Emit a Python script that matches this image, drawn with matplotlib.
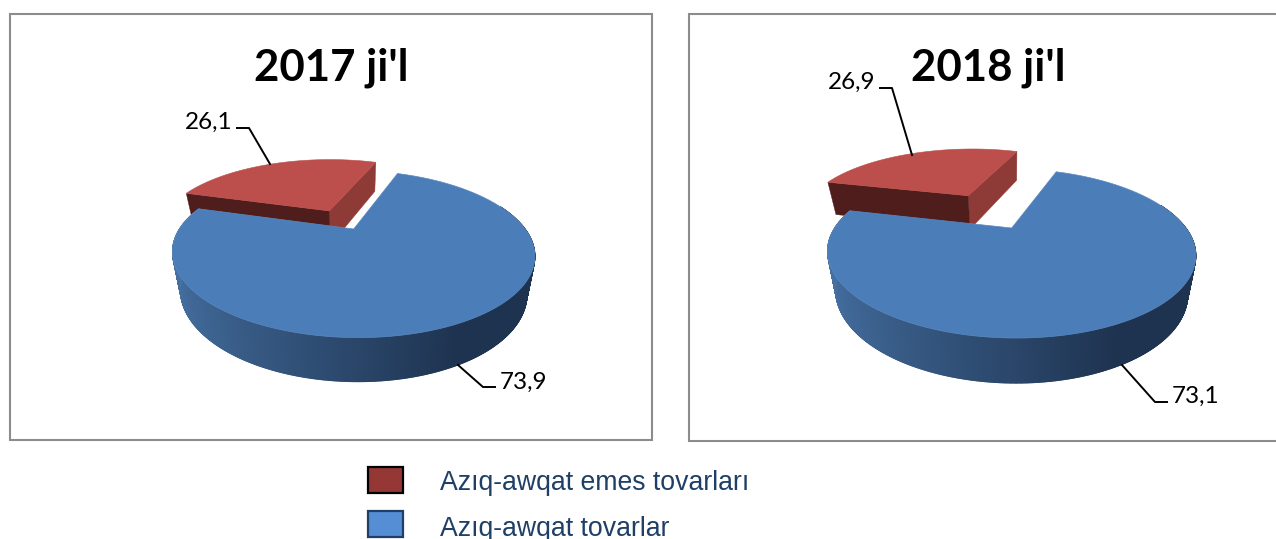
import numpy as np
import matplotlib
matplotlib.use("Agg")
import matplotlib.pyplot as plt
from matplotlib.collections import PolyCollection
from matplotlib.patches import Rectangle, Polygon

years = ["2017 ji'l", "2018 ji'l"]
food = [73.9, 73.1]
non_food = [26.1, 26.9]
legend_labels = ["Azıq-awqat emes tovarları", "Azıq-awqat tovarlar"]

# layout of each panel in picture pixels
panels = [
    dict(box=(10, 14, 652, 440), x0=353.7, y0=229, a=172.8, b=76, h=44, explode=0.285,
         title_x=331, red_lab=(232, 122), red_line=[(237, 128), (249, 128), (270, 164)],
         blue_lab=(500, 382), blue_line=[(458, 365), (483, 387), (495, 387)]),
    dict(box=(689, 14, 1290, 441), x0=1011.7, y0=228, a=175.6, b=77, h=45, explode=0.54,
         title_x=988, red_lab=(875, 82), red_line=[(880, 88), (892, 88), (912, 155)],
         blue_lab=(1172, 396), blue_line=[(1122, 365), (1155, 402), (1167, 402)]),
]
persp = 0.30
tilt = 0.012
start_angle = 19

blue_top = "#4B7DB9"
red_top = "#BC4F4C"
red_right = "#8E3B38"
red_left = "#4F1E1C"
wall_left = np.array([0x46, 0x72, 0xA4]) / 255
wall_dark = np.array([0x1E, 0x33, 0x50]) / 255


def top_xy(p, u, v):
    w = 1 + persp * v
    x = p["x0"] + p["a"] * u / w
    y = p["y0"] - p["b"] * v / w + tilt * p["a"] * u / w
    return x, y


def bottom_xy(p, u, v):
    x, y = top_xy(p, u, v)
    x = p["x0"] + (x - p["x0"]) * 0.956
    y = y + p["h"] * 0.81 / (1 + 0.19 * v)
    return x, y


def rim(a1, a2, n=200):
    # angles clockwise from north, in degrees
    t = np.radians(np.linspace(a1, a2, n))
    return np.sin(t), np.cos(t)


fig = plt.figure(figsize=(12.76, 5.39), dpi=100)
ax = fig.add_axes([0, 0, 1, 1])
ax.set_xlim(0, 1276)
ax.set_ylim(539, 0)
ax.axis("off")


def draw_pie(p, blue_val, red_val, title):
    x1, y1, x2, y2 = p["box"]
    ax.add_patch(Rectangle((x1, y1), x2 - x1, y2 - y1, fc="white", ec="#8C8C8C", lw=1.5))

    blue_end = start_angle + 360 * blue_val / 100
    red_end = blue_end + 360 * red_val / 100

    # red slice, pulled out along its middle angle
    mid = np.radians((blue_end + red_end) / 2)
    du = p["explode"] * np.sin(mid) - 0.018
    dv = p["explode"] * np.cos(mid)
    ru, rv = rim(blue_end, red_end)
    ru, rv = ru + du, rv + dv
    for i, col in ((-1, red_right), (0, red_left)):
        us = np.array([du, ru[i]])
        vs = np.array([dv, rv[i]])
        tx, ty = top_xy(p, us, vs)
        bx, by = bottom_xy(p, us, vs)
        ax.add_patch(Polygon(list(zip(tx, ty)) + list(zip(bx[::-1], by[::-1])), fc=col, ec=col, lw=0.3))
    tx, ty = top_xy(p, np.r_[du, ru], np.r_[dv, rv])
    ax.add_patch(Polygon(np.c_[tx, ty], fc=red_top, ec=red_top, lw=0.4))

    # blue outer wall, thin strips for the shading
    bu, bv = rim(start_angle, blue_end, 900)
    tx, ty = top_xy(p, bu, bv)
    bx, by = bottom_xy(p, bu, bv)
    strips, cols = [], []
    for i in range(len(bu) - 1):
        if bv[i] > 0.35:
            continue
        strips.append([(tx[i], ty[i]), (tx[i + 1], ty[i + 1]), (bx[i + 1], by[i + 1]), (bx[i], by[i])])
        f = min((bu[i] + 1) / 2 / 0.72, 1)
        cols.append(wall_left + (wall_dark - wall_left) * f)
    ax.add_collection(PolyCollection(strips, facecolors=cols, edgecolors=cols, linewidths=0.8))

    tx, ty = top_xy(p, np.r_[0, bu], np.r_[0, bv])
    ax.add_patch(Polygon(np.c_[tx, ty], fc=blue_top, ec="#5C89BF", lw=0.5))

    ax.text(p["title_x"], 68, title, fontfamily="Lato", fontweight="bold", fontsize=31.5,
            ha="center", va="center", color="black")

    lx, ly = zip(*p["red_line"])
    ax.plot(lx, ly, color="black", lw=1.4)
    lx, ly = zip(*p["blue_line"])
    ax.plot(lx, ly, color="black", lw=1.4)
    ax.text(*p["red_lab"], f"{red_val:.1f}".replace(".", ","), fontfamily="Lato", fontsize=17.5,
            ha="right", va="center", color="black")
    ax.text(*p["blue_lab"], f"{blue_val:.1f}".replace(".", ","), fontfamily="Lato", fontsize=17.5,
            ha="left", va="center", color="black")


for i in range(2):
    draw_pie(panels[i], food[i], non_food[i], years[i])

ax.add_patch(Rectangle((368, 467), 35, 26, fc="#953735", ec="black", lw=1.6))
ax.add_patch(Rectangle((368, 511), 35, 26, fc="#558ED5", ec="#1F3F66", lw=1.6))
ax.text(440, 483, legend_labels[0], fontfamily="Liberation Sans", fontsize=19.2,
        ha="left", va="center", color="#1F3F66")
ax.text(440, 529, legend_labels[1], fontfamily="Liberation Sans", fontsize=19.2,
        ha="left", va="center", color="#1F3F66")

fig.savefig("out.png", dpi=100)
